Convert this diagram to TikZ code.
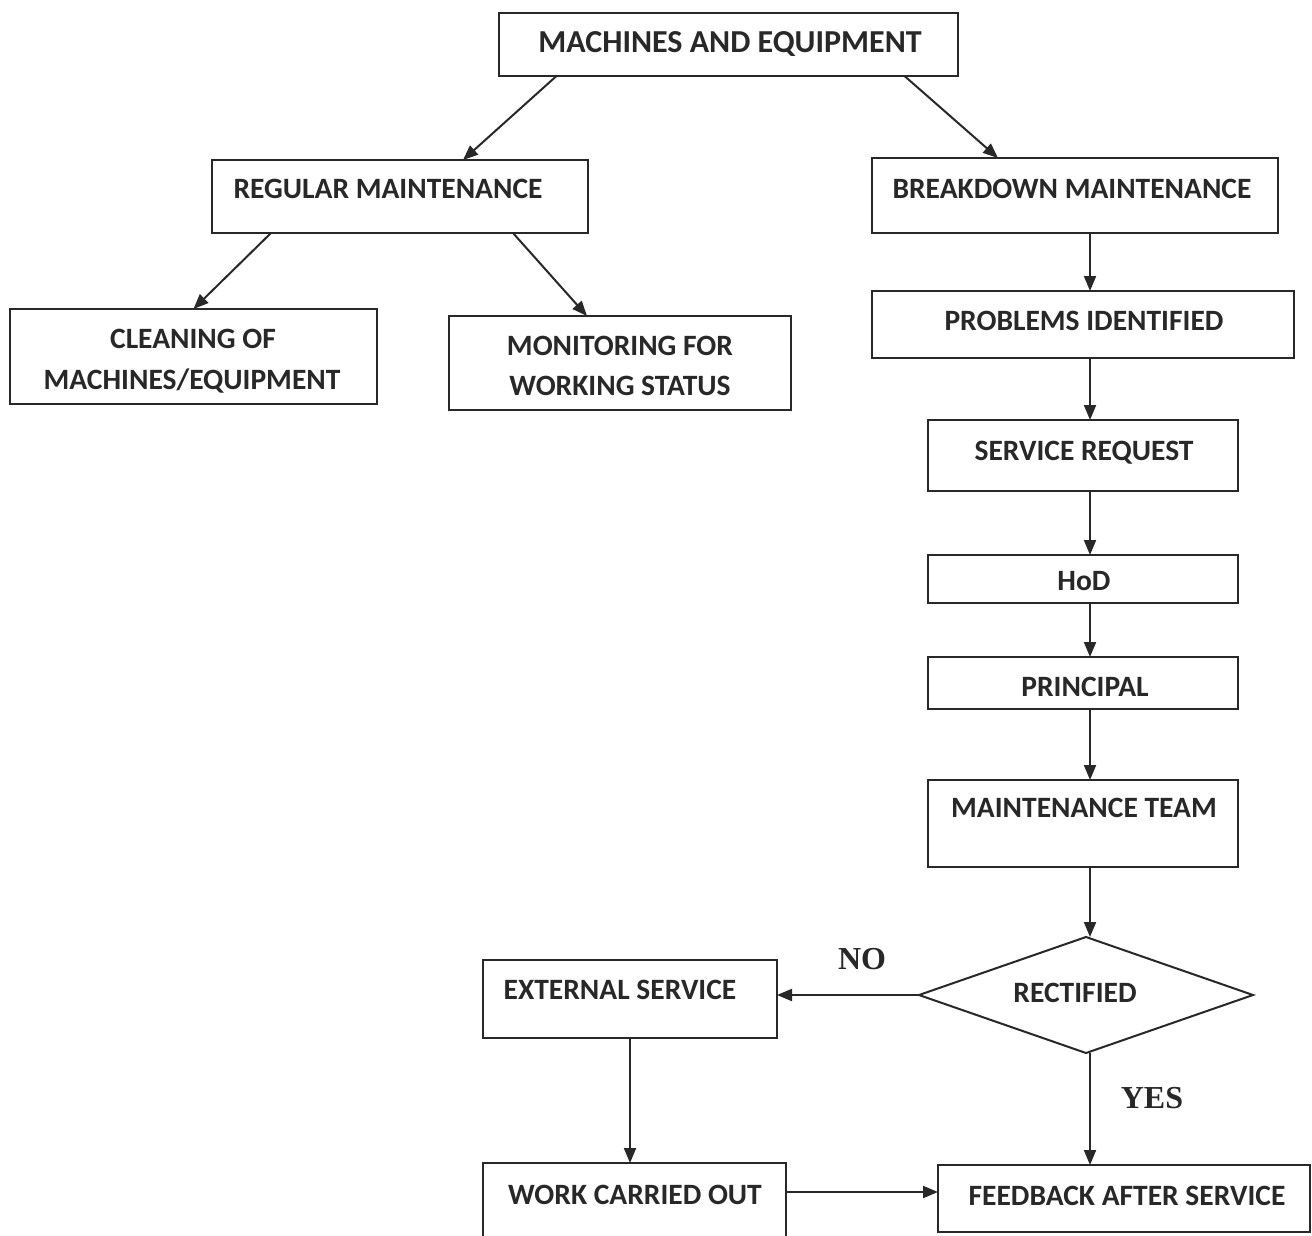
\documentclass[tikz,border=0pt]{standalone}
\usepackage{fontspec}
\setmainfont{Carlito}
\newfontfamily\serifb{Liberation Serif}
\usetikzlibrary{shapes.geometric,arrows.meta,calc}
\definecolor{ink}{RGB}{40,40,40}
\begin{document}
\begin{tikzpicture}[x=1pt,y=-1pt,
  box/.style={draw=ink,line width=2pt,inner sep=0pt,outer sep=0pt},
  txt/.style={text=ink,font=\fontsize{29.5}{36}\selectfont\bfseries,inner sep=0pt,text height=0.644em,text depth=0pt,yshift=-6pt},
  yn/.style={text=ink,font=\serifb\fontsize{32}{36}\selectfont\bfseries,inner sep=0pt,text height=0.662em,text depth=0pt,yshift=-8pt},
  arr/.style={draw=ink,line width=2pt,-{Triangle[length=15pt,width=12pt]}}]
\useasboundingbox[fill=white] (0,0) rectangle (1312,1236);
% boxes
\node[box,minimum width=459pt,minimum height=63pt] (me) at (728.5,44.5) {};
\node[box,minimum width=376pt,minimum height=73pt] (rm) at (400,196.5) {};
\node[box,minimum width=406pt,minimum height=75pt] (bm) at (1075,195.5) {};
\node[box,minimum width=367pt,minimum height=95pt] (cl) at (193.5,356.5) {};
\node[box,minimum width=342pt,minimum height=94pt] (mo) at (620,363) {};
\node[box,minimum width=422pt,minimum height=67pt] (pi) at (1083,324.5) {};
\node[box,minimum width=310pt,minimum height=71pt] (sr) at (1083,455.5) {};
\node[box,minimum width=310pt,minimum height=48pt] (hod) at (1083,579) {};
\node[box,minimum width=310pt,minimum height=52pt] (pr) at (1083,683) {};
\node[box,minimum width=310pt,minimum height=87pt] (mt) at (1083,823.5) {};
\node[box,shape=diamond,aspect=2.88,minimum width=334pt,minimum height=116pt] (rd) at (1086,995) {};
\node[box,minimum width=294pt,minimum height=78pt] (es) at (630,999) {};
\node[box,minimum width=303pt,minimum height=82pt] (wc) at (634.5,1204) {};
\node[box,minimum width=372pt,minimum height=67pt] (fb) at (1124,1198.5) {};
% texts
\node[txt,font=\fontsize{32}{36}\selectfont\bfseries] (t-me) at (730,43) {MACHINES AND EQUIPMENT};
\node[txt] (t-rm) at (388,189) {REGULAR MAINTENANCE};
\node[txt] (t-bm) at (1072,189) {BREAKDOWN MAINTENANCE};
\node[txt] (t-cl1) at (193,339) {CLEANING OF};
\node[txt] (t-cl2) at (192,380) {MACHINES/EQUIPMENT};
\node[txt] (t-mo1) at (620,346) {MONITORING FOR};
\node[txt] (t-mo2) at (620,386) {WORKING STATUS};
\node[txt] (t-pi) at (1084,321) {PROBLEMS IDENTIFIED};
\node[txt] (t-sr) at (1084,451) {SERVICE REQUEST};
\node[txt] (t-hod) at (1084,581) {HoD};
\node[txt] (t-pr) at (1085,687) {PRINCIPAL};
\node[txt] (t-mt) at (1084,808) {MAINTENANCE TEAM};
\node[txt] (t-rd) at (1075,993) {RECTIFIED};
\node[txt] (t-es) at (620,990) {EXTERNAL SERVICE};
\node[txt] (t-wc) at (635,1195) {WORK CARRIED OUT};
\node[txt] (t-fb) at (1127,1196) {FEEDBACK AFTER SERVICE};
\node[yn] (no) at (862,958) {NO};
\node[yn] (yes) at (1152,1097) {YES};
% connectors
\coordinate (ax) at (1090,0);
\draw[arr] ($(me.south)+(-172,0)$) -- ($(rm.north)+(63,0)$);
\draw[arr] ($(me.south)+(176,0)$) -- ($(bm.north)+(-77,0)$);
\draw[arr] ($(rm.south)+(-129,0)$) -- (cl.north);
\draw[arr] ($(rm.south)+(113,0)$) -- ($(mo.north)+(-33,0)$);
\draw[arr] (bm.south -| ax) -- (pi.north -| ax);
\draw[arr] (pi.south -| ax) -- (sr.north -| ax);
\draw[arr] (sr.south -| ax) -- (hod.north -| ax);
\draw[arr] (hod.south -| ax) -- (pr.north -| ax);
\draw[arr] (pr.south -| ax) -- (mt.north -| ax);
\draw[arr] (mt.south -| ax) -- (rd.north -| ax);
\draw[arr] (rd.west) -- (es.east |- rd.west);
\draw[arr] (es.south) -- (wc.north -| es.south);
\draw[arr] ($(wc.east)+(0,-12)$) -- ($(fb.west)+(0,-6.5)$);
\draw[arr] (rd.south -| ax) -- (fb.north -| ax);
\end{tikzpicture}
\end{document}
